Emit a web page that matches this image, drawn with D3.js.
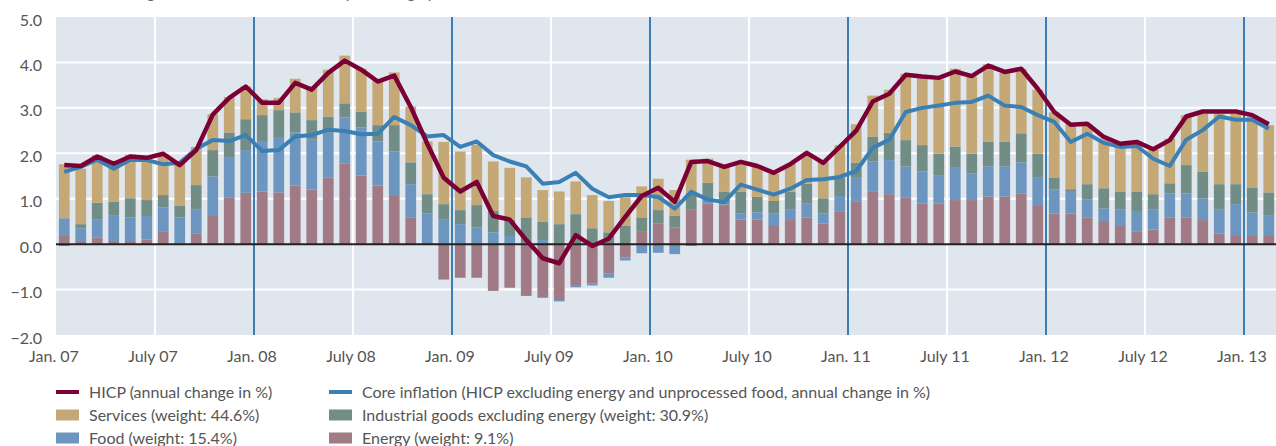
<!DOCTYPE html>
<html>
<head>
<meta charset="utf-8">
<script src="https://cdn.jsdelivr.net/npm/d3@7"></script>
<style>
  body { margin: 0; background: #fff; }
  svg { display: block; font-family: Lato, "Open Sans", sans-serif; }
</style>
</head>
<body>
<svg id="chart" width="1276" height="446"></svg>
<script>
// monthly categories Jan 2007 .. Feb 2013
const months = d3.timeMonth.range(new Date(2007, 0, 1), new Date(2013, 2, 1));

// contributions in percentage points
const energy = [
  0.18, 0.07, 0.14, 0.07, 0.07, 0.10, 0.27, 0.01, 0.24, 0.64, 1.02, 1.13,
  1.16, 1.14, 1.29, 1.20, 1.47, 1.78, 1.51, 1.29, 1.08, 0.58, 0.00, -0.78,
  -0.74, -0.74, -1.03, -0.96, -1.14, -1.18, -1.23, -0.90, -0.86, -0.64, -0.29, 0.27,
  0.45, 0.37, 0.77, 0.89, 0.86, 0.54, 0.54, 0.42, 0.53, 0.59, 0.45, 0.71,
  0.93, 1.15, 1.10, 1.02, 0.89, 0.89, 0.97, 0.97, 1.05, 1.05, 1.12, 0.84,
  0.67, 0.67, 0.58, 0.51, 0.40, 0.27, 0.32, 0.58, 0.59, 0.53, 0.23, 0.20,
  0.18, 0.20
];
const food = [
  0.39, 0.28, 0.41, 0.57, 0.52, 0.52, 0.54, 0.58, 0.53, 0.85, 0.88, 0.94,
  1.11, 1.20, 1.17, 1.10, 0.98, 1.01, 1.06, 0.97, 0.96, 0.74, 0.68, 0.55,
  0.44, 0.37, 0.26, 0.18, 0.02, 0.09, -0.03, -0.05, -0.05, -0.10, -0.07, -0.20,
  -0.19, -0.22, -0.04, 0.09, 0.01, 0.13, 0.16, 0.25, 0.24, 0.31, 0.23, 0.35,
  0.53, 0.67, 0.75, 0.69, 0.71, 0.63, 0.71, 0.59, 0.66, 0.66, 0.68, 0.62,
  0.54, 0.50, 0.41, 0.28, 0.37, 0.46, 0.45, 0.54, 0.53, 0.48, 0.54, 0.68,
  0.52, 0.44
];
const industrial = [
  -0.04, 0.09, 0.36, 0.29, 0.42, 0.35, 0.27, 0.25, 0.53, 0.58, 0.56, 0.68,
  0.57, 0.61, 0.44, 0.43, 0.36, 0.31, 0.35, 0.36, 0.58, 0.48, 0.42, 0.33,
  0.31, 0.49, 0.47, 0.36, 0.57, 0.40, 0.44, 0.66, 0.35, 0.26, 0.40, 0.32,
  0.30, 0.25, 0.36, 0.37, 0.29, 0.48, 0.34, 0.28, 0.38, 0.43, 0.33, 0.40,
  0.33, 0.54, 0.60, 0.58, 0.58, 0.47, 0.47, 0.43, 0.55, 0.55, 0.64, 0.53,
  0.26, 0.04, 0.33, 0.44, 0.39, 0.43, 0.33, 0.22, 0.62, 0.59, 0.55, 0.44,
  0.55, 0.50
];
const services = [
  1.19, 1.22, 1.05, 0.82, 0.96, 0.95, 0.90, 0.97, 0.84, 0.79, 0.78, 0.72,
  0.35, 0.27, 0.74, 0.74, 1.03, 1.05, 0.94, 0.98, 1.16, 1.23, 1.16, 1.37,
  1.29, 1.33, 1.09, 1.14, 0.88, 0.70, 0.72, 0.72, 0.73, 0.69, 0.63, 0.68,
  0.69, 0.57, 0.73, 0.53, 0.55, 0.64, 0.66, 0.60, 0.62, 0.63, 0.80, 0.72,
  0.85, 0.91, 0.95, 1.46, 1.48, 1.63, 1.71, 1.70, 1.70, 1.51, 1.42, 1.41,
  1.43, 1.43, 1.32, 1.06, 0.99, 1.05, 0.98, 0.98, 1.10, 1.27, 1.55, 1.55,
  1.55, 1.48
];

// annual change in %
const hicp = [
  1.74, 1.72, 1.93, 1.77, 1.93, 1.90, 1.99, 1.74, 2.07, 2.85, 3.22, 3.47,
  3.11, 3.11, 3.55, 3.40, 3.77, 4.04, 3.84, 3.58, 3.71, 3.02, 2.21, 1.46,
  1.16, 1.37, 0.62, 0.54, 0.09, -0.31, -0.42, 0.20, -0.04, 0.12, 0.60, 1.06,
  1.24, 0.93, 1.81, 1.83, 1.70, 1.81, 1.72, 1.57, 1.76, 2.01, 1.79, 2.14,
  2.50, 3.14, 3.31, 3.73, 3.69, 3.66, 3.80, 3.70, 3.93, 3.79, 3.86, 3.42,
  2.91, 2.63, 2.65, 2.36, 2.21, 2.25, 2.09, 2.29, 2.81, 2.92, 2.92, 2.92,
  2.84, 2.64
];
const core = [
  1.59, 1.70, 1.86, 1.66, 1.86, 1.85, 1.76, 1.79, 2.10, 2.29, 2.27, 2.40,
  2.05, 2.07, 2.37, 2.40, 2.52, 2.49, 2.42, 2.43, 2.80, 2.62, 2.37, 2.40,
  2.14, 2.26, 1.96, 1.82, 1.71, 1.33, 1.37, 1.57, 1.22, 1.03, 1.08, 1.08,
  1.04, 0.78, 1.15, 0.98, 0.93, 1.31, 1.20, 1.09, 1.22, 1.41, 1.43, 1.48,
  1.61, 2.12, 2.30, 2.91, 3.00, 3.05, 3.11, 3.13, 3.27, 3.05, 3.02, 2.84,
  2.69, 2.25, 2.43, 2.23, 2.14, 2.16, 1.88, 1.72, 2.30, 2.51, 2.81, 2.74,
  2.74, 2.54
];

const yTicks = [5, 4, 3, 2, 1, 0, -1, -2];
const xTickLabels = ['Jan. 07', 'July 07', 'Jan. 08', 'July 08', 'Jan. 09', 'July 09',
  'Jan. 10', 'July 10', 'Jan. 11', 'July 11', 'Jan. 12', 'July 12', 'Jan. 13'];

const keys = ['energy', 'food', 'industrial', 'services'];
const colors = {
  energy: '#a07b86',
  food: '#6c96bf',
  industrial: '#718d86',
  services: '#c4a976'
};

const svg = d3.select('#chart'),
  margin = {top: 17, right: 0, bottom: 111, left: 56},
  width = +svg.attr('width') - margin.left - margin.right,
  height = +svg.attr('height') - margin.top - margin.bottom;

const table = months.map(function (m, i) {
  return {date: m, energy: energy[i], food: food[i], industrial: industrial[i], services: services[i]};
});

const step = 16.5;
const x = d3.scaleBand()
  .domain(d3.range(months.length))
  .range([margin.left, margin.left + months.length * step])
  .paddingInner(0.35)
  .paddingOuter(0.175);

// month boundaries
const xb = d3.scaleLinear().domain([0, months.length]).range([margin.left, margin.left + months.length * step]);

const y = d3.scaleLinear().domain([-2, 5]).range([margin.top + height, margin.top]);

// heading above the crop, only its descenders show
svg.append('text')
  .attr('x', 60).attr('y', -2)
  .attr('font-size', 16).attr('fill', '#666')
  .text('Annual change in % and contributions in percentage points');

// plot background
svg.append('rect')
  .attr('x', margin.left).attr('y', margin.top)
  .attr('width', width).attr('height', height)
  .attr('fill', '#dfe6ee');

// horizontal white grid
svg.append('g').selectAll('line')
  .data(yTicks.filter(function (d) { return d !== 5 && d !== -2 && d !== 0; }))
  .join('line')
  .attr('x1', margin.left).attr('x2', margin.left + width)
  .attr('y1', function (d) { return y(d); }).attr('y2', function (d) { return y(d); })
  .attr('stroke', '#fff').attr('stroke-width', 2);

// July gridlines (white)
const julys = d3.range(6, months.length, 12);
svg.append('g').selectAll('line')
  .data(julys)
  .join('line')
  .attr('x1', function (d) { return xb(d); }).attr('x2', function (d) { return xb(d); })
  .attr('y1', margin.top).attr('y2', margin.top + height)
  .attr('stroke', '#fff').attr('stroke-width', 2);

// stacked bars
const stack = d3.stack().keys(keys).offset(d3.stackOffsetDiverging);
const series = stack(table);

svg.append('g').selectAll('g')
  .data(series)
  .join('g')
  .attr('fill', function (d) { return colors[d.key]; })
  .selectAll('rect')
  .data(function (d) { return d; })
  .join('rect')
  .attr('x', function (d, i) { return x(i); })
  .attr('width', x.bandwidth())
  .attr('y', function (d) { return y(Math.max(d[0], d[1])); })
  .attr('height', function (d) { return Math.abs(y(d[0]) - y(d[1])); });

// January lines (blue)
const jans = d3.range(12, months.length, 12);
svg.append('g').selectAll('line')
  .data(jans)
  .join('line')
  .attr('x1', function (d) { return xb(d); }).attr('x2', function (d) { return xb(d); })
  .attr('y1', margin.top).attr('y2', margin.top + height)
  .attr('stroke', '#3d7db3').attr('stroke-width', 2);

// zero line
svg.append('line')
  .attr('x1', margin.left).attr('x2', margin.left + width)
  .attr('y1', y(0)).attr('y2', y(0))
  .attr('stroke', '#231f20').attr('stroke-width', 2);

// lines
const line = d3.line()
  .x(function (d, i) { return x(i) + x.bandwidth() / 2; })
  .y(function (d) { return y(d); });

svg.append('path')
  .datum(core)
  .attr('fill', 'none')
  .attr('stroke', '#3a80b5')
  .attr('stroke-width', 4)
  .attr('stroke-linejoin', 'round')
  .attr('d', line);

svg.append('path')
  .datum(hicp)
  .attr('fill', 'none')
  .attr('stroke', '#7b0035')
  .attr('stroke-width', 4.5)
  .attr('stroke-linejoin', 'round')
  .attr('d', line);

// y axis labels
svg.append('g').selectAll('text')
  .data(yTicks)
  .join('text')
  .attr('x', 42)
  .attr('y', function (d) { return y(d) + 3; })
  .attr('dy', '0.35em')
  .attr('text-anchor', 'end')
  .attr('font-size', 16)
  .attr('fill', '#555')
  .text(function (d) { return d3.format('.1f')(d).replace('-', '\u2013'); });

// x axis labels
svg.append('g').selectAll('text')
  .data(xTickLabels)
  .join('text')
  .attr('x', function (d, i) { return xb(i * 6) - 2; })
  .attr('y', 362)
  .attr('text-anchor', 'middle')
  .attr('font-size', 16)
  .attr('fill', '#555')
  .text(function (d) { return d; });

// legend
const legendItems = [
  {label: 'HICP (annual change in %)', color: '#7b0035', type: 'line', col: 0, row: 0},
  {label: 'Core inflation (HICP excluding energy and unprocessed food, annual change in %)', color: '#3a80b5', type: 'line', col: 1, row: 0},
  {label: 'Services (weight: 44.6%)', color: colors.services, type: 'rect', col: 0, row: 1},
  {label: 'Industrial goods excluding energy (weight: 30.9%)', color: colors.industrial, type: 'rect', col: 1, row: 1},
  {label: 'Food (weight: 15.4%)', color: colors.food, type: 'rect', col: 0, row: 2},
  {label: 'Energy (weight: 9.1%)', color: colors.energy, type: 'rect', col: 1, row: 2}
];
const colX = [56, 329];
const rowY = [392, 415, 438];

const lg = svg.append('g').selectAll('g')
  .data(legendItems)
  .join('g')
  .attr('transform', function (d) { return 'translate(' + colX[d.col] + ',' + rowY[d.row] + ')'; });

lg.filter(function (d) { return d.type === 'line'; })
  .append('rect')
  .attr('x', 0).attr('y', -2).attr('width', 23).attr('height', 4)
  .attr('fill', function (d) { return d.color; });

lg.filter(function (d) { return d.type === 'rect'; })
  .append('rect')
  .attr('x', 0).attr('y', -5.5).attr('width', 23).attr('height', 11)
  .attr('fill', function (d) { return d.color; });

lg.append('text')
  .attr('x', 33)
  .attr('dy', '0.35em')
  .attr('font-size', 16)
  .attr('fill', '#555')
  .text(function (d) { return d.label; });
</script>
</body>
</html>
